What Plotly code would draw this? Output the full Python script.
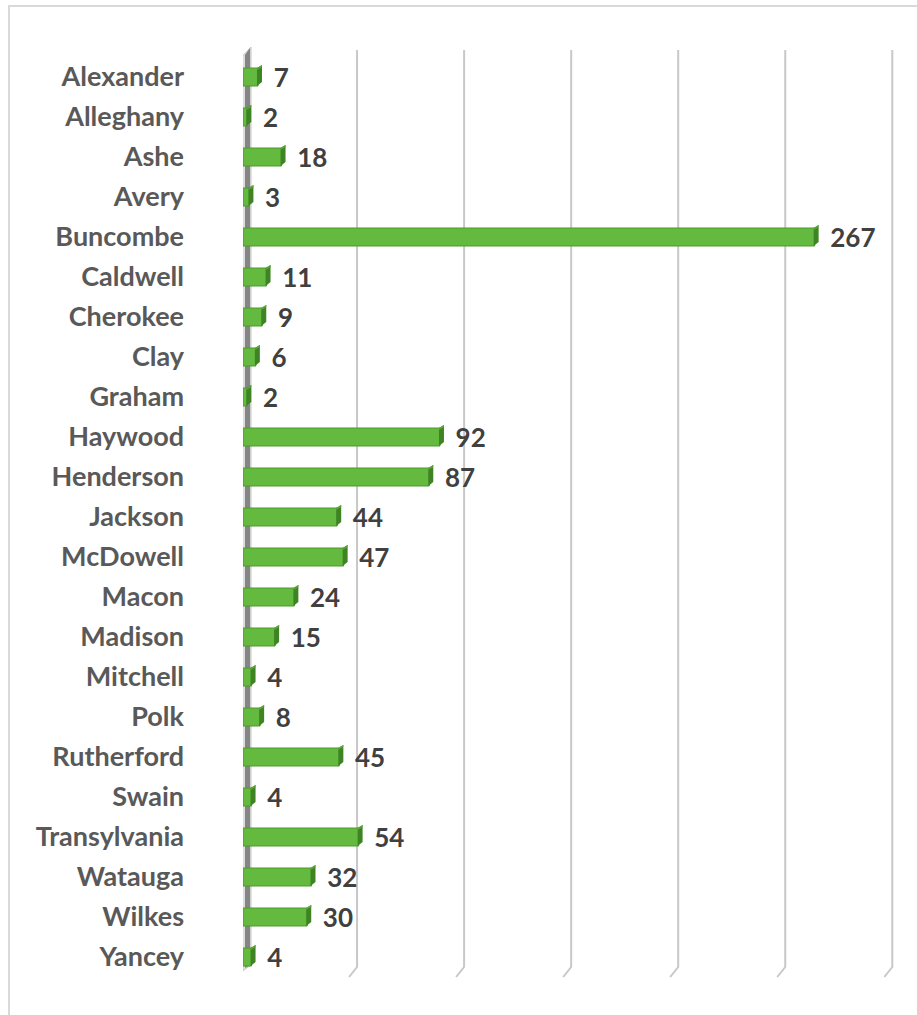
import plotly.graph_objects as go

counties = ["Alexander", "Alleghany", "Ashe", "Avery", "Buncombe", "Caldwell", "Cherokee",
            "Clay", "Graham", "Haywood", "Henderson", "Jackson", "McDowell", "Macon",
            "Madison", "Mitchell", "Polk", "Rutherford", "Swain", "Transylvania",
            "Watauga", "Wilkes", "Yancey"]
counts = [7, 2, 18, 3, 267, 11, 9, 6, 2, 92, 87, 44, 47, 24, 15, 4, 8, 45, 4, 54, 32, 30, 4]
grid_values = [0, 50, 100, 150, 200, 250, 300]

W, H = 917, 1015
ML, MR, MT, MB = 243, 21, 57, 38
PW, PH = W - ML - MR, H - MT - MB
XMAX = 305

def pyp(py):
    return (H - MB - py) / PH

def pxp(px):
    return (px - ML) / PW

fig = go.Figure()
fig.add_trace(go.Bar(
    y=counties, x=counts, orientation="h", width=0.45,
    marker=dict(color="#64ba3e", line=dict(color="#4a9a2c", width=1)),
    text=counts, texttemplate="  %{x}", textposition="outside", cliponaxis=False,
    constraintext="none",
    textfont=dict(family="Lato", size=26, color="#404040", weight="bold"),
    hoverinfo="skip",
))

shapes = []
# border
shapes.append(dict(type="rect", xref="paper", yref="paper",
                   x0=pxp(9), x1=pxp(930), y0=pyp(6), y1=pyp(1030),
                   line=dict(color="#d9d9d9", width=2), fillcolor="rgba(0,0,0,0)", layer="below"))
# gridlines with 3D foot
for v in grid_values[1:]:
    shapes.append(dict(type="path", xref="x", yref="paper", xsizemode="pixel", xanchor=v,
                       ysizemode="pixel", yanchor=0,
                       path="M 7,927 L 7,10 L -1,0",
                       line=dict(color="#c8c8c8", width=2), layer="below"))
# left wall
shapes.append(dict(type="path", xref="x", yref="paper", xsizemode="pixel", xanchor=0,
                   ysizemode="pixel", yanchor=0,
                   path="M -6,2 L -6,915 L 8,930 L 8,12 Z",
                   fillcolor="#dcdcdc", line=dict(color="#c4c4c4", width=1), layer="below"))
shapes.append(dict(type="path", xref="x", yref="paper", xsizemode="pixel", xanchor=0,
                   ysizemode="pixel", yanchor=0,
                   path="M 2,9 L 2,922 L 7,929 L 7,12 Z",
                   fillcolor="#858585", line=dict(width=0), layer="below"))
# bar end caps (3D side face) and top highlight
for i, v in enumerate(counts):
    shapes.append(dict(type="path", xref="x", yref="y", xsizemode="pixel", xanchor=v,
                       ysizemode="pixel", yanchor=counties[i],
                       path="M -1,-9 L -1,9 L 4,12 L 4,-5 Z",
                       fillcolor="#3f8424", line=dict(width=0)))
    shapes.append(dict(type="path", xref="x", yref="y", xsizemode="pixel", xanchor=v,
                       ysizemode="pixel", yanchor=counties[i],
                       path="M -1,9 L 4,12 L 4,10 L -1,7 Z",
                       fillcolor="#5aa536", line=dict(width=0)))

fig.update_layout(
    width=W, height=H, margin=dict(l=ML, r=MR, t=MT, b=MB),
    paper_bgcolor="white", plot_bgcolor="white", showlegend=False,
    shapes=shapes,
    xaxis=dict(range=[0, XMAX], showgrid=False, zeroline=False, showticklabels=False,
               showline=False, fixedrange=True),
    yaxis=dict(autorange="reversed", showgrid=False, zeroline=False, showline=False,
               ticks="", ticklabelstandoff=58,
               tickfont=dict(family="Lato", size=27, color="#595959", weight="bold")),
)

fig.write_html("out.html")
